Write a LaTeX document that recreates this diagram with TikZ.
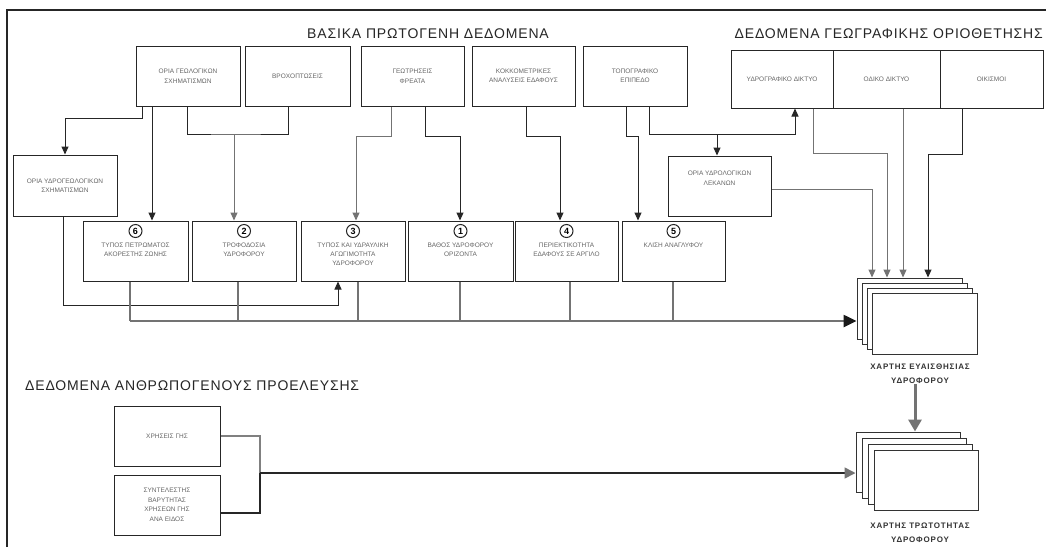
\documentclass[tikz,border=0pt]{standalone}
\usepackage{fontspec}
\setmainfont{Liberation Sans}
\usetikzlibrary{arrows.meta}
\begin{document}
\begin{tikzpicture}[x=1pt,y=-1pt,
  box/.style={draw=black!85, line width=1pt, fill=white, inner sep=1pt, align=center,
    font=\fontsize{6.5}{9.5}\selectfont, text=black!60},
  btext/.style={align=center, inner sep=0pt, font=\fontsize{6.5}{9}\selectfont, text=black!60},
  sheet/.style={draw=black!80, line width=1pt, fill=white, inner sep=0pt},
  num/.style={circle, draw=black!85, line width=1pt, inner sep=0pt, minimum size=13pt,
    font=\fontsize{9}{9}\selectfont\bfseries, fill=white},
  conn/.style={line width=1pt, draw=black!85},
  arr/.style={conn, -{Triangle[length=8pt,width=7pt]}},
  garr/.style={conn, draw=black!55, -{Triangle[length=8pt,width=7pt]}},
  drop/.style={line width=2pt, draw=black!55},
  gline/.style={line width=2pt, draw=black!50},
  title/.style={font=\fontsize{14}{14}\selectfont\addfontfeatures{LetterSpace=6}, text=black!85, inner sep=0pt},
  maplabel/.style={align=center, font=\fontsize{8}{14}\selectfont\bfseries\addfontfeatures{LetterSpace=10}, text=black!80, inner sep=0pt}]
\useasboundingbox (0,0) rectangle (1046,547);
\fill[white] (0,0) rectangle (1046,547);
% frame
\draw[line width=1.2pt, black!85] (7,547) -- (7,10) -- (1046,10);
% titles
\node[title] (t1) at (428,34) {ΒΑΣΙΚΑ ΠΡΩΤΟΓΕΝΗ ΔΕΔΟΜΕΝΑ};
\node[title, anchor=east] (t2) at (1043,34) {ΔΕΔΟΜΕΝΑ ΓΕΩΓΡΑΦΙΚΗΣ ΟΡΙΟΘΕΤΗΣΗΣ};
\node[title, anchor=west] (t3) at (25,386) {ΔΕΔΟΜΕΝΑ ΑΝΘΡΩΠΟΓΕΝΟΥΣ ΠΡΟΕΛΕΥΣΗΣ};
% top boxes
\node[box, minimum width=104pt, minimum height=60pt] (geol) at (188,76) {ΟΡΙΑ ΓΕΩΛΟΓΙΚΩΝ\\ΣΧΗΜΑΤΙΣΜΩΝ};
\node[box, minimum width=105pt, minimum height=60pt] (vroch) at (297.5,76) {ΒΡΟΧΟΠΤΩΣΕΙΣ};
\node[box, minimum width=103pt, minimum height=60pt] (geotr) at (412.5,76) {ΓΕΩΤΡΗΣΕΙΣ\\ΦΡΕΑΤΑ};
\node[box, minimum width=103pt, minimum height=60pt] (kokk) at (523.5,76) {ΚΟΚΚΟΜΕΤΡΙΚΕΣ\\ΑΝΑΛΥΣΕΙΣ ΕΔΑΦΟΥΣ};
\node[box, minimum width=104pt, minimum height=60pt] (topo) at (635,76) {ΤΟΠΟΓΡΑΦΙΚΟ\\ΕΠΙΠΕΔΟ};
\node[box, minimum width=102pt, minimum height=58pt] (ydrogr) at (782,79) {ΥΔΡΟΓΡΑΦΙΚΟ ΔΙΚΤΥΟ};
\node[box, minimum width=107pt, minimum height=58pt] (odiko) at (886.5,79) {ΟΔΙΚΟ ΔΙΚΤΥΟ};
\node[box, minimum width=103pt, minimum height=58pt] (oikism) at (991.5,79) {ΟΙΚΙΣΜΟΙ};
% second level
\node[box, minimum width=104pt, minimum height=61pt] (ydrogeol) at (65,185.5) {ΟΡΙΑ ΥΔΡΟΓΕΩΛΟΓΙΚΩΝ\\ΣΧΗΜΑΤΙΣΜΩΝ};
\node[box, minimum width=103pt, minimum height=60pt] (ydrolog) at (719.5,186) {ΟΡΙΑ ΥΔΡΟΛΟΓΙΚΩΝ\\ΛΕΚΑΝΩΝ\\[6pt]};
% middle row
\node[box, minimum width=105pt, minimum height=60pt] (b6) at (135.5,251) {};
\node[box, minimum width=104pt, minimum height=60pt] (b2) at (244,251) {};
\node[box, minimum width=104pt, minimum height=60pt] (b3) at (353,251) {};
\node[box, minimum width=105pt, minimum height=60pt] (b1) at (460.5,251) {};
\node[box, minimum width=103pt, minimum height=60pt] (b4) at (566.5,251) {};
\node[box, minimum width=103pt, minimum height=60pt] (b5) at (673.5,251) {};
\foreach \b/\n/\t in {b6/6/{ΤΥΠΟΣ ΠΕΤΡΩΜΑΤΟΣ\\ΑΚΟΡΕΣΤΗΣ ΖΩΝΗΣ},
                      b2/2/{ΤΡΟΦΟΔΟΣΙΑ\\ΥΔΡΟΦΟΡΟΥ},
                      b3/3/{ΤΥΠΟΣ ΚΑΙ ΥΔΡΑΥΛΙΚΗ\\ΑΓΩΓΙΜΟΤΗΤΑ\\ΥΔΡΟΦΟΡΟΥ},
                      b1/1/{ΒΑΘΟΣ ΥΔΡΟΦΟΡΟΥ\\ΟΡΙΖΟΝΤΑ},
                      b4/4/{ΠΕΡΙΕΚΤΙΚΟΤΗΤΑ\\ΕΔΑΦΟΥΣ ΣΕ ΑΡΓΙΛΟ},
                      b5/5/{ΚΛΙΣΗ ΑΝΑΓΛΥΦΟΥ}} {
  \node[num] (n\b) at ([yshift=20pt]\b.center) {\n};
  \node[btext, anchor=north] (t\b) at ([yshift=8pt]\b.center) {\t};
}
% bottom-left boxes
\node[box, minimum width=106pt, minimum height=60pt] (lu) at (167,436) {ΧΡΗΣΕΙΣ ΓΗΣ};
\node[box, minimum width=106pt, minimum height=60pt] (wt) at (167,505) {ΣΥΝΤΕΛΕΣΤΗΣ\\ΒΑΡΥΤΗΤΑΣ\\ΧΡΗΣΕΩΝ ΓΗΣ\\ΑΝΑ ΕΙΔΟΣ};
% map stacks
\foreach \i/\n in {0/a,1/b,2/c,3/d}
  \node[sheet, minimum width=105pt, minimum height=61pt] (st1\n) at ({909.5+5.3*\i},{308.5+5.3*\i}) {};
\foreach \i/\n in {0/a,1/b,2/c,3/d}
  \node[sheet, minimum width=104pt, minimum height=60pt] (st2\n) at ({908+6*\i},{462+6*\i}) {};
\node[maplabel] (lab1) at (920,374) {ΧΑΡΤΗΣ ΕΥΑΙΣΘΗΣΙΑΣ\\ΥΔΡΟΦΟΡΟΥ};
\node[maplabel] (lab2) at (920,533) {ΧΑΡΤΗΣ ΤΡΩΤΟΤΗΤΑΣ\\ΥΔΡΟΦΟΡΟΥ};
% top connectors
\draw[arr] ([xshift=-46pt]geol.south) -- ++(0,12) -| (ydrogeol.north);
\draw[arr] ([xshift=-36pt]geol.south) -- ([xshift=16.5pt]b6.north);
\coordinate (j1) at (234,134);
\draw[conn] ([xshift=-1pt]geol.south) |- (j1) -| ([xshift=-9.5pt]vroch.south);
\draw[garr] (j1) -- ([xshift=-10pt]b2.north);
\draw[garr] ([xshift=-21.5pt]geotr.south) -- ++(0,30) -| ([xshift=3pt]b3.north);
\draw[arr] ([xshift=12.5pt]geotr.south) -- ++(0,30) -| ([xshift=-0.5pt]b1.north);
\draw[arr] ([xshift=2.5pt]kokk.south) -- ++(0,30) -| ([xshift=-6.5pt]b4.north);
\draw[arr] ([xshift=-9pt]topo.south) -- ++(0,30) -| ([xshift=-35.5pt]b5.north);
\coordinate (j2) at (717,134);
\draw[arr] ([xshift=14pt]topo.south) -- ++(0,28) -| ([xshift=13pt]ydrogr.south);
\draw[arr] (j2) -- ([xshift=-2.5pt]ydrolog.north);
% to sensitivity map
\draw[garr] ([yshift=-3pt]ydrolog.east) -| ([xshift=-37.5pt]st1a.north);
\draw[garr] ([xshift=31pt]ydrogr.south) -- ++(0,45) -| ([xshift=-22.5pt]st1a.north);
\draw[garr] ([xshift=16.5pt]odiko.south) -- ([xshift=-6.5pt]st1a.north);
\draw[arr] ([xshift=-29.5pt]oikism.south) -- ++(0,46) -| ([xshift=18.5pt]st1a.north);
% bottom connectors of the middle row
\draw[arr] ([xshift=-2pt]ydrogeol.south) -- ++(0,89) -| ([xshift=-15pt]b3.south);
\coordinate (busL) at (130,321);
\foreach \b/\d in {b6/-5.5,b2/-6,b3/5,b1/-0.5,b4/3.5,b5/-0.5}
  \draw[drop] ([xshift=\d pt]\b.south) |- (busL);
\draw[line width=2.5pt, draw=black!55, -{Triangle[length=13pt,width=12pt,color=black!90]}] (busL) -- ([yshift=-12.5pt]st1a.west);
% sensitivity -> vulnerability
\draw[line width=3pt, draw=black!55, -{Triangle[length=12pt,width=13pt]}] ([xshift=-5pt]lab1.south) -- ([xshift=7pt]st2a.north);
% anthropogenic data
\coordinate (j3) at (260,473);
\draw[gline] (lu.east) -| (j3);
\draw[line width=2pt, draw=black!85] ([yshift=-8pt]wt.east) -| (j3);
\draw[line width=1.6pt, draw=black!85, -{Triangle[length=11pt,width=11pt,color=black!55]}] (j3) -- ([yshift=-11pt]st2a.west);
\end{tikzpicture}
\end{document}
